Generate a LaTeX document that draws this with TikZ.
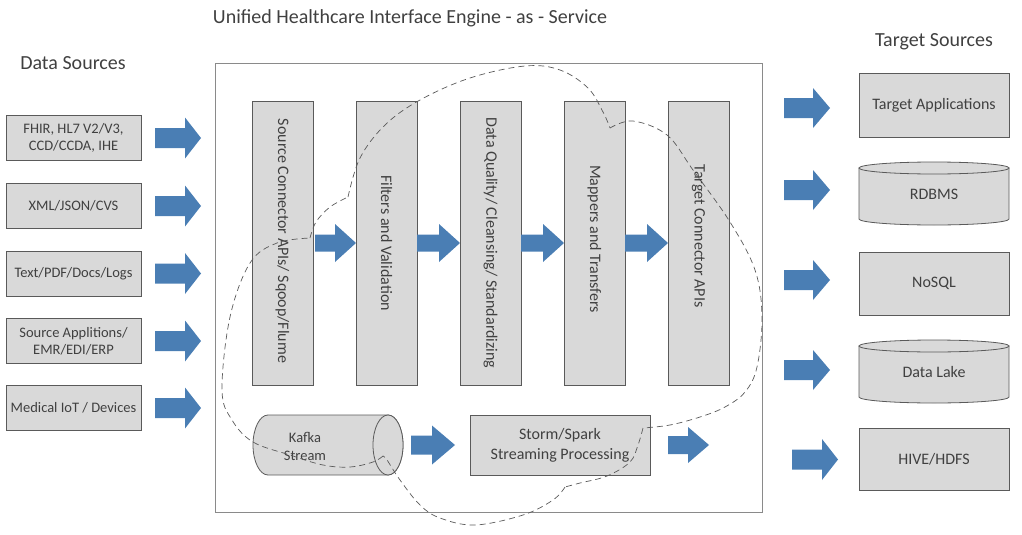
\documentclass[tikz,border=0pt]{standalone}
\usepackage{fontspec}
\setmainfont{Carlito}
\definecolor{boxfill}{HTML}{D9D9D9}
\definecolor{boxline}{HTML}{5A5A5A}
\definecolor{arrowblue}{HTML}{4A7EB4}
\definecolor{txtgray}{HTML}{404040}
\definecolor{framegray}{HTML}{8A8A8A}
\definecolor{cloudgray}{HTML}{5A5A5A}
\newcommand\blockarrow[6]{% x1, x2, yc, head start, half head, half shaft
  \fill[arrowblue] (#1,#3-#6) -- (#4,#3-#6) -- (#4,#3-#5) -- (#2,#3) -- (#4,#3+#5) -- (#4,#3+#6) -- (#1,#3+#6) -- cycle;}
\begin{document}
\begin{tikzpicture}[x=1pt,y=-1pt,
  title/.style={text=txtgray, font=\fontsize{20}{24}\selectfont, inner sep=0},
  srcbox/.style={draw=boxline, fill=boxfill, line width=0.8pt, minimum width=135pt, minimum height=45pt, inner sep=0, align=center, text=txtgray, font=\fontsize{14.5}{17}\selectfont},
  stagebox/.style={draw=boxline, fill=boxfill, line width=0.8pt, minimum width=61pt, minimum height=284pt, inner sep=0},
  stagetext/.style={rotate=-90, text=txtgray, font=\fontsize{16}{19}\selectfont, inner sep=0},
  tgtbox/.style={draw=boxline, fill=boxfill, line width=0.8pt, minimum width=150pt, inner sep=0, align=center, text=txtgray, font=\fontsize{16}{19}\selectfont},
  plaintext/.style={text=txtgray, font=\fontsize{16}{19}\selectfont, inner sep=0, align=center},
  cyl/.style={draw=boxline, fill=boxfill, line width=0.8pt},
  cloudline/.style={draw=cloudgray, line width=0.7pt, dash pattern=on 6pt off 4pt}
]
\useasboundingbox (0,0) rectangle (1022,535);

% titles
\node[title] (ttop) at (410,18) {Unified Healthcare Interface Engine - as - Service};
\node[title] (tleft) at (73,63) {Data Sources};
\node[title] (tright) at (934,42) {Target Sources};

% engine frame
\node[draw=framegray, line width=0.9pt, minimum width=547pt, minimum height=449pt, inner sep=0] (engine) at (488.5,287.5) {};

% data sources
\node[srcbox] (s1) at (73.5,138) {FHIR, HL7 V2/V3,\\CCD/CCDA, IHE};
\node[srcbox] (s2) at (73.5,206) {XML/JSON/CVS};
\node[srcbox] (s3) at (73.5,273.5) {Text/PDF/Docs/Logs};
\node[srcbox] (s4) at (73.5,341) {Source Applitions/\\EMR/EDI/ERP};
\node[srcbox] (s5) at (73.5,408) {Medical IoT / Devices};

\foreach \yc in {138,206,273.5,341,408}{\blockarrow{155}{201}{\yc}{185}{20.5}{10}}

% stages
\node[stagebox] (b1) at (282.5,243) {};
\node[stagebox] (b2) at (386.5,243) {};
\node[stagebox] (b3) at (490.5,243) {};
\node[stagebox] (b4) at (594.5,243) {};
\node[stagebox] (b5) at (698.5,243) {};
\node[stagetext] (l1) at (282.5,241) {Source Connector APIs/ Sqoop/Flume};
\node[stagetext] (l2) at (386.5,243) {Filters and Validation};
\node[stagetext] (l3) at (490.5,243) {Data Quality/ Cleansing/ Standardizing};
\node[stagetext] (l4) at (594.5,239) {Mappers and Transfers};
\node[stagetext] (l5) at (698.5,236) {Target Connector APIs};

\blockarrow{315}{356}{243}{335}{19}{8.5}
\blockarrow{417}{460}{243}{439}{19}{8.5}
\blockarrow{521}{564}{243}{543}{19}{8.5}
\blockarrow{625}{668}{243}{647}{19}{8.5}

% streaming row
\path[cyl] (268,415) -- (388,415) arc[start angle=-90,end angle=90,x radius=15,y radius=30]
  -- (268,475) arc[start angle=90,end angle=270,x radius=15,y radius=30] -- cycle;
\path[cyl] (388,445) ellipse[x radius=15,y radius=30];
\node[plaintext, font=\fontsize{14.5}{18}\selectfont] (kafka) at (305,446) {Kafka\\Stream};
\blockarrow{411}{455}{445}{432}{19.5}{9.5}
\node[srcbox, minimum width=180pt, minimum height=60pt, font=\fontsize{16}{20}\selectfont] (storm) at (560,445) {Storm/Spark\\Streaming Processing};
\blockarrow{668}{709}{445}{688}{18}{9}

% targets
\foreach \yc in {108,190,280,370}{\blockarrow{784}{830}{\yc}{813}{20}{10}}
\blockarrow{792}{838}{459.5}{822}{20.5}{10}

\node[tgtbox, minimum height=64pt] (t1) at (934,105) {Target Applications};
\path[cyl] (859,168) -- (859,219) arc[start angle=180,end angle=0,x radius=75,y radius=6] -- (1009,168) -- cycle;
\path[cyl] (934,168) ellipse[x radius=75,y radius=6];
\node[plaintext] (t2) at (934,194) {RDBMS};
\node[tgtbox, minimum height=63pt] (t3) at (934,283.5) {NoSQL};
\path[cyl] (859,346) -- (859,397) arc[start angle=180,end angle=0,x radius=75,y radius=6] -- (1009,346) -- cycle;
\path[cyl] (934,346) ellipse[x radius=75,y radius=6];
\node[plaintext] (t4) at (934,372) {Data Lake};
\node[tgtbox, minimum height=62pt] (t5) at (934,459) {HIVE/HDFS};

% cloud
\path[cloudline] plot[smooth,tension=0.6] coordinates {(383,456) (373,462) (350,467) (323,465) (290,455) (253,442) (232,420) (222,390) (230,317) (250,263) (277,243) (310,238)};
\path[cloudline] plot[smooth,tension=0.6] coordinates {(310,238) (316,222) (330,207) (348,197)};
\path[cloudline] plot[smooth,tension=0.6] coordinates {(348,197) (360,158) (385,125) (420,100) (470,78) (525,66) (560,70) (588,88) (603,112) (610,128)};
\path[cloudline] plot[smooth,tension=0.6] coordinates {(610,128) (633,121) (667,135) (693,170) (730,222) (755,270) (762,317) (757,367) (745,392) (725,407) (700,417) (670,425) (643,428)};
\path[cloudline] plot[smooth,tension=0.6] coordinates {(643,428) (638,445) (630,462) (607,476) (580,483) (565,487)};
\path[cloudline] plot[smooth,tension=0.6] coordinates {(565,487) (553,500) (523,515) (475,525) (440,518) (420,505) (400,480) (387,460) (383,456)};
\end{tikzpicture}
\end{document}
